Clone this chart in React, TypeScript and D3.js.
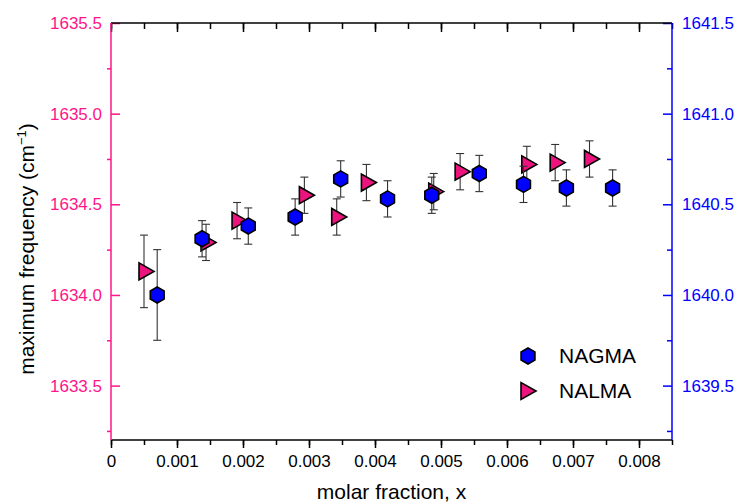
import React, { useEffect, useRef } from 'react';
import * as d3 from 'd3';

// NAGMA (blue hexagons, right axis)
const nagmaX = [0.0007, 0.00138, 0.00208, 0.00279, 0.00348, 0.00419, 0.00486, 0.00558, 0.00625, 0.0069, 0.0076];
const nagmaY = [1640.0, 1640.31, 1640.38, 1640.43, 1640.64, 1640.53, 1640.55, 1640.67, 1640.61, 1640.59, 1640.59];
const nagmaErr = [0.25, 0.1, 0.1, 0.1, 0.1, 0.1, 0.1, 0.1, 0.1, 0.1, 0.1];

// NALMA (pink triangles, left axis)
const nalmaX = [0.0005, 0.00144, 0.00191, 0.00293, 0.00342, 0.00387, 0.00489, 0.00529, 0.0063, 0.00673, 0.00725];
const nalmaY = [1634.13, 1634.29, 1634.41, 1634.55, 1634.43, 1634.62, 1634.57, 1634.68, 1634.72, 1634.73, 1634.75];
const nalmaErr = [0.2, 0.1, 0.1, 0.1, 0.1, 0.1, 0.1, 0.1, 0.1, 0.1, 0.1];

const xTicks = [0, 0.001, 0.002, 0.003, 0.004, 0.005, 0.006, 0.007, 0.008];
const leftTicks = [1633.5, 1634.0, 1634.5, 1635.0, 1635.5];
const rightTicks = [1639.5, 1640.0, 1640.5, 1641.0, 1641.5];

const PINK = '#ff1489';
const PINK_FILL = '#ec137f';
const BLUE = '#0000ff';
const FONT = '"Liberation Sans", Arial, sans-serif';

const App = () => {
  const ref = useRef<SVGSVGElement>(null);
  const dims = { width: 737, height: 504, left: 111, right: 672, top: 23, bottom: 440 };

  useEffect(() => {
    const svg = d3.select(ref.current);
    svg.selectAll('*').remove();

    const x = d3.scaleLinear().domain([0, 0.0085]).range([dims.left, dims.right]);
    const yL = d3.scaleLinear().domain([1633.2, 1635.5]).range([dims.bottom, dims.top]);
    const yR = d3.scaleLinear().domain([1639.2, 1641.5]).range([dims.bottom, dims.top]);

    const minorX = d3.range(0, 0.0086, 0.0005);
    const minorL = d3.range(1633.25, 1635.5, 0.5);
    const minorR = d3.range(1639.25, 1641.5, 0.5);

    const styleAxis = (g, color, size) => {
      g.select('.domain').remove();
      g.selectAll('line').attr('stroke', color).attr('stroke-width', 1.5);
      g.selectAll('text').attr('fill', color).attr('font-size', size).attr('font-family', FONT);
    };

    // bottom axis
    svg.append('g')
       .attr('transform', `translate(0, ${dims.bottom})`)
       .call(d3.axisBottom(x).tickValues(minorX).tickSize(5).tickFormat(() => ''))
       .call(g => styleAxis(g, '#000', 17));
    svg.append('g')
       .attr('transform', `translate(0, ${dims.bottom})`)
       .call(d3.axisBottom(x).tickValues(xTicks).tickSize(8).tickPadding(7)
         .tickFormat(d => (d === 0 ? '0' : d3.format('.3f')(d))))
       .call(g => styleAxis(g, '#000', 17));

    // top axis
    svg.append('g')
       .attr('transform', `translate(0, ${dims.top})`)
       .call(d3.axisTop(x).tickValues(minorX).tickSize(-6).tickFormat(() => ''))
       .call(g => styleAxis(g, '#000', 17));
    svg.append('g')
       .attr('transform', `translate(0, ${dims.top})`)
       .call(d3.axisTop(x).tickValues(xTicks).tickSize(-9).tickFormat(() => ''))
       .call(g => styleAxis(g, '#000', 17));

    // left axis
    svg.append('g')
       .attr('transform', `translate(${dims.left}, 0)`)
       .call(d3.axisLeft(yL).tickValues(minorL).tickSize(4).tickFormat(() => ''))
       .call(g => styleAxis(g, PINK, 17));
    svg.append('g')
       .attr('transform', `translate(${dims.left}, 0)`)
       .call(d3.axisLeft(yL).tickValues(leftTicks).tickSize(-9).tickPadding(9).tickFormat(d3.format('.1f')))
       .call(g => styleAxis(g, PINK, 17));

    // right axis
    svg.append('g')
       .attr('transform', `translate(${dims.right}, 0)`)
       .call(d3.axisRight(yR).tickValues(minorR).tickSize(-5).tickFormat(() => ''))
       .call(g => styleAxis(g, BLUE, 17));
    svg.append('g')
       .attr('transform', `translate(${dims.right}, 0)`)
       .call(d3.axisRight(yR).tickValues(rightTicks).tickSize(-9).tickPadding(10).tickFormat(d3.format('.1f')))
       .call(g => styleAxis(g, BLUE, 17));

    // frame lines
    svg.append('line').attr('x1', dims.left).attr('x2', dims.right).attr('y1', dims.top).attr('y2', dims.top)
       .attr('stroke', '#000').attr('stroke-width', 1.5);
    svg.append('line').attr('x1', dims.left).attr('x2', dims.right).attr('y1', dims.bottom).attr('y2', dims.bottom)
       .attr('stroke', '#000').attr('stroke-width', 1.5);
    svg.append('line').attr('x1', dims.left).attr('x2', dims.left).attr('y1', dims.top).attr('y2', dims.bottom)
       .attr('stroke', PINK).attr('stroke-width', 1.5);
    svg.append('line').attr('x1', dims.right).attr('x2', dims.right).attr('y1', dims.top).attr('y2', dims.bottom)
       .attr('stroke', BLUE).attr('stroke-width', 1.5);

    // axis titles
    svg.append('text')
       .attr('x', (dims.left + dims.right) / 2)
       .attr('y', 499)
       .attr('text-anchor', 'middle')
       .attr('font-family', FONT)
       .attr('font-size', 21)
       .text('molar fraction, x');

    const yt = svg.append('text')
       .attr('transform', 'translate(34, 249) rotate(-90)')
       .attr('text-anchor', 'middle')
       .attr('font-family', FONT)
       .attr('font-size', 21);
    yt.append('tspan').text('maximum frequency (cm');
    yt.append('tspan').attr('font-size', 13).attr('dy', -8).text('\u22121');
    yt.append('tspan').attr('dy', 8).text(')');

    // marker paths
    const hexPath = (cx, cy, r) => {
      const pts = d3.range(6).map(i => {
        const a = (Math.PI / 3) * i - Math.PI / 2;
        return [cx + r * Math.cos(a), cy + r * Math.sin(a)];
      });
      return 'M' + pts.map(p => p.join(',')).join('L') + 'Z';
    };
    const triPath = (cx, cy, w, h) =>
      `M${cx + (2 * w) / 3},${cy}L${cx - w / 3},${cy - h / 2}L${cx - w / 3},${cy + h / 2}Z`;

    const errorBars = (xs, ys, es, scale) => {
      const g = svg.append('g').attr('stroke', '#333').attr('stroke-width', 1.1);
      xs.forEach((xv, i) => {
        const px = x(xv);
        const top = scale(ys[i] + es[i]);
        const bot = scale(ys[i] - es[i]);
        g.append('line').attr('x1', px).attr('x2', px).attr('y1', top).attr('y2', bot);
        g.append('line').attr('x1', px - 4).attr('x2', px + 4).attr('y1', top).attr('y2', top);
        g.append('line').attr('x1', px - 4).attr('x2', px + 4).attr('y1', bot).attr('y2', bot);
      });
    };

    // NALMA
    errorBars(nalmaX, nalmaY, nalmaErr, yL);
    svg.append('g').selectAll('path')
       .data(nalmaX)
       .join('path')
       .attr('d', (d, i) => triPath(x(d), yL(nalmaY[i]), 15, 17))
       .attr('fill', PINK_FILL)
       .attr('stroke', '#000')
       .attr('stroke-width', 1.6)
       .attr('stroke-linejoin', 'miter');

    // NAGMA
    errorBars(nagmaX, nagmaY, nagmaErr, yR);
    svg.append('g').selectAll('path')
       .data(nagmaX)
       .join('path')
       .attr('d', (d, i) => hexPath(x(d), yR(nagmaY[i]), 8))
       .attr('fill', BLUE)
       .attr('stroke', '#000')
       .attr('stroke-width', 1.6);

    // legend
    svg.append('path').attr('d', hexPath(528, 356, 8)).attr('fill', BLUE).attr('stroke', '#000').attr('stroke-width', 1.6);
    svg.append('path').attr('d', triPath(526, 391, 15, 17)).attr('fill', PINK_FILL).attr('stroke', '#000').attr('stroke-width', 1.6);
    svg.append('text').attr('x', 559).attr('y', 363).attr('font-family', FONT).attr('font-size', 21).text('NAGMA');
    svg.append('text').attr('x', 559).attr('y', 398).attr('font-family', FONT).attr('font-size', 21).text('NALMA');
  }, []);

  return (
    <div id="chartArea">
      <svg
        ref={ref}
        width={dims.width}
        height={dims.height}
        style={{ position: 'absolute', left: 0, top: 0, background: '#fff' }}
      />
    </div>
  );
};

export default App;
